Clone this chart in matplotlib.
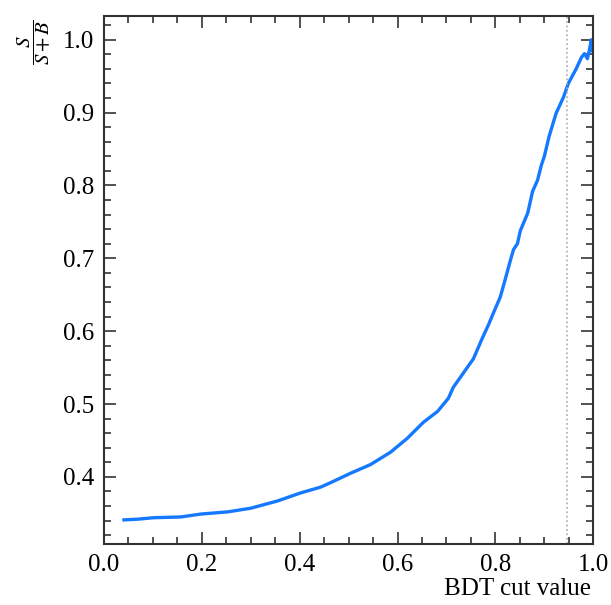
import numpy as np
import matplotlib.pyplot as plt
from matplotlib.ticker import MultipleLocator

plt.rcParams['font.family'] = ['Liberation Serif', 'DejaVu Serif']
plt.rcParams['mathtext.fontset'] = 'stix'

# Kurva S/(S+B) terhadap nilai potongan BDT
bdt_cut = [0.041, 0.07, 0.102, 0.157, 0.198, 0.253, 0.300, 0.355, 0.402, 0.443,
           0.463, 0.504, 0.545, 0.586, 0.620, 0.653, 0.682, 0.704, 0.714, 0.735,
           0.755, 0.773, 0.786, 0.796, 0.810, 0.820, 0.831, 0.837, 0.845, 0.851,
           0.866, 0.876, 0.886, 0.894, 0.900, 0.910, 0.924, 0.939, 0.949, 0.965,
           0.976, 0.982, 0.988, 0.992, 0.996, 0.998]
purity = [0.341, 0.342, 0.344, 0.345, 0.349, 0.352, 0.357, 0.367, 0.378, 0.386,
          0.392, 0.405, 0.417, 0.434, 0.453, 0.475, 0.490, 0.508, 0.523, 0.543,
          0.562, 0.590, 0.609, 0.625, 0.647, 0.671, 0.698, 0.712, 0.720, 0.738,
          0.762, 0.792, 0.807, 0.828, 0.840, 0.868, 0.899, 0.921, 0.940, 0.960,
          0.976, 0.981, 0.974, 0.986, 1.000, 0.985]
best_cut = 0.946

fig = plt.figure(figsize=(6.11, 6.05), dpi=100)
ax = fig.add_axes([0.170, 0.101, 0.801, 0.873])

ax.plot(bdt_cut, purity, color='#1579ff', lw=2.4)
ax.axvline(best_cut, color='#aaaaaa', ls=':', lw=1.2)

ax.set_xlim(0, 1)
ax.margins(y=0.05)

ax.xaxis.set_major_locator(MultipleLocator(0.2))
ax.xaxis.set_minor_locator(MultipleLocator(0.05))
ax.yaxis.set_major_locator(MultipleLocator(0.1))
ax.yaxis.set_minor_locator(MultipleLocator(0.02))
ax.tick_params(which='both', direction='in', top=True, right=True,
               labelsize=18, color='#333333', width=1.2)
ax.tick_params(which='major', length=8.5, pad=7)
ax.tick_params(which='minor', length=5)
for s in ax.spines.values():
    s.set_linewidth(1.5)
    s.set_color('#333333')

ax.set_xlabel('BDT cut value', fontsize=18, ha='right')
ax.xaxis.set_label_coords(0.995, -0.065)
ax.set_ylabel(r'$\dfrac{S}{S+B}$', fontsize=15, rotation=90, va='center')
ax.yaxis.set_label_coords(-0.141, 0.95)

fig.savefig('out.png', dpi=100)
